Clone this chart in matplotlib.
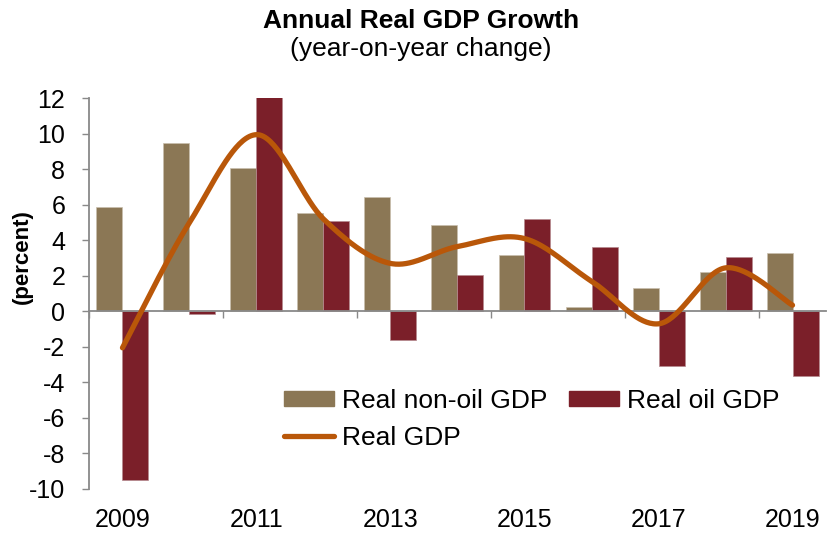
import numpy as np
import matplotlib
matplotlib.use('Agg')
import matplotlib.pyplot as plt
from matplotlib.lines import Line2D
from matplotlib.patches import Patch

# data
years = ['2009', '2010', '2011', '2012', '2013', '2014', '2015', '2016', '2017', '2018', '2019']
non_oil = [5.9, 9.5, 8.1, 5.55, 6.45, 4.85, 3.2, 0.27, 1.3, 2.2, 3.3]
oil = [-9.5, -0.15, 12.05, 5.1, -1.6, 2.05, 5.2, 3.65, -3.1, 3.05, -3.65]
real_gdp = [-2.05, 5.0, 9.95, 5.2, 2.7, 3.65, 4.1, 1.7, -0.7, 2.45, 0.35]

c_non_oil = '#8B7755'
c_oil = '#7B1F29'
c_gdp = '#B95709'
c_axis = '#898989'

plt.rcParams['font.family'] = ['Liberation Sans', 'DejaVu Sans']
plt.rcParams['axes.unicode_minus'] = False

fig = plt.figure(figsize=(8.3, 5.36), dpi=100)
ax = fig.add_axes([0.1072, 0.0877, 0.888, 0.729])

x = np.arange(len(years))
w = 0.388
ax.bar(x - w/2, non_oil, w, color=c_non_oil, edgecolor='#c9bfae', linewidth=0.5, zorder=2)
ax.bar(x + w/2, oil, w, color=c_oil, edgecolor='#b58a8f', linewidth=0.5, zorder=2)


# excel style smoothed line (bezier through the points)
def smooth(xs, ys, n=40):
    p = np.column_stack([xs, ys]).astype(float)
    p = np.vstack([p[0], p, p[-1]])
    out = []
    for i in range(1, len(p) - 2):
        p0, p3 = p[i], p[i + 1]
        c1 = p0 + (p[i + 1] - p[i - 1]) / 6.0
        c2 = p3 - (p[i + 2] - p[i]) / 6.0
        t = np.linspace(0, 1, n)[:, None]
        out.append((1-t)**3*p0 + 3*(1-t)**2*t*c1 + 3*(1-t)*t**2*c2 + t**3*p3)
    out = np.vstack(out)
    return out[:, 0], out[:, 1]


sx, sy = smooth(x, real_gdp)
ax.plot(sx, sy, color=c_gdp, linewidth=3.8, solid_capstyle='round', zorder=3)

ax.set_xlim(-0.5, 10.5)
ax.set_ylim(-10, 12)
ax.set_yticks(np.arange(-10, 13, 2))
ax.tick_params(axis='y', labelsize=18, length=5, width=1, color=c_axis, pad=12)

# x axis sits on zero, tick marks every two years
ax.spines['bottom'].set_position(('data', 0))
ax.set_xticks(np.arange(-0.5, 10.5, 2))
ax.tick_params(axis='x', labelbottom=False, length=5, width=1, color=c_axis, direction='out')
for s in ['top', 'right']:
    ax.spines[s].set_visible(False)
for s in ['left', 'bottom']:
    ax.spines[s].set_color(c_axis)
    ax.spines[s].set_linewidth(1.3)

# year labels at the bottom of the plot
sec = ax.secondary_xaxis('bottom')
sec.set_xticks(x[::2])
sec.set_xticklabels(years[::2])
sec.tick_params(length=0, labelsize=18, pad=14)
sec.spines['bottom'].set_visible(False)

fig.text(22/830, 1 - 257/536, '(percent)', rotation=90, fontsize=16, fontweight='bold',
         ha='center', va='center')
fig.text(0.507, 1 - 28/536, 'Annual Real GDP Growth', fontsize=19, fontweight='bold',
         ha='center', va='baseline')
fig.text(0.507, 1 - 56/536, '(year-on-year change)', fontsize=19,
         ha='center', va='baseline')

handles = [Patch(color=c_non_oil),
           Line2D([0], [0], color=c_gdp, linewidth=3.8, solid_capstyle='round'),
           Patch(color=c_oil)]
labels = ['Real non-oil GDP', 'Real GDP', 'Real oil GDP']
ax.legend(handles, labels, ncol=2, frameon=False, fontsize=19,
          loc='center left', bbox_to_anchor=(0.265, 0.178), borderaxespad=0, borderpad=0,
          handlelength=1.9, handleheight=0.55, handletextpad=0.3, columnspacing=0.8,
          labelspacing=0.5)

fig.savefig('out.png', dpi=100)
